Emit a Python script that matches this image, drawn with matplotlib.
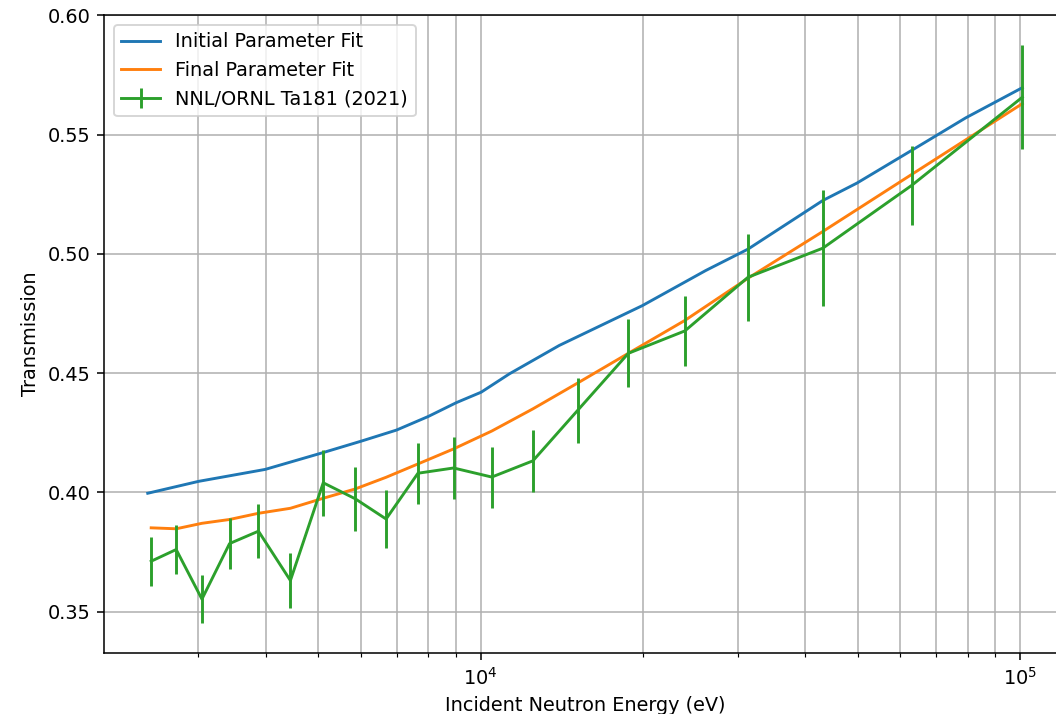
import matplotlib
matplotlib.use("Agg")
import matplotlib.pyplot as plt

# Measured data energies (eV)
energy_data = [2452, 2728, 3045, 3426, 3876, 4442, 5110, 5857, 6683, 7657,
               8915, 10493, 12506, 15130, 18796, 23928, 31325, 43112, 62973, 101000]
trans_data = [0.3711, 0.3760, 0.3552, 0.3785, 0.3837, 0.3630, 0.4040, 0.3973, 0.3888, 0.4080,
              0.4102, 0.4064, 0.4132, 0.4343, 0.4583, 0.4677, 0.4902, 0.5024, 0.5287, 0.5657]
trans_err = [0.0102, 0.0103, 0.0100, 0.0107, 0.0112, 0.0117, 0.0139, 0.0134, 0.0122, 0.0128,
             0.0129, 0.0128, 0.0130, 0.0135, 0.0143, 0.0146, 0.0182, 0.0243, 0.0166, 0.0219]

# Final parameter fit (evaluated at data energies)
trans_final = [0.3851, 0.3847, 0.3870, 0.3886, 0.3912, 0.3933, 0.3975, 0.4014, 0.4063, 0.4119,
               0.4182, 0.4257, 0.4350, 0.4458, 0.4583, 0.4721, 0.4898, 0.5094, 0.5333, 0.5630]

# Initial parameter fit
energy_init = [2416, 3003, 3988, 5097, 6018, 6986, 8000, 9018, 10030, 11315, 13996,
               19953, 26140, 31325, 43112, 49870, 62973, 79400, 101000]
trans_init = [0.3996, 0.4046, 0.4096, 0.4166, 0.4215, 0.4261, 0.4318, 0.4376, 0.4420, 0.4497, 0.4616,
              0.4783, 0.4930, 0.5020, 0.5224, 0.5297, 0.5434, 0.5571, 0.5697]

DPI = 139
fig = plt.figure(figsize=(1056 / DPI, 714 / DPI), dpi=DPI)
ax = fig.add_axes([104/1056, 1 - 653/714, 962/1056, 638/714])

ax.plot(energy_init, trans_init, label="Initial Parameter Fit")
ax.plot(energy_data, trans_final, label="Final Parameter Fit")
ax.errorbar(energy_data, trans_data, yerr=trans_err, label="NNL/ORNL Ta181 (2021)")

ax.set_xscale("log")
ax.set_ylim(0.3326, 0.6002)
ax.grid(True, which="both")
ax.set_xlabel("Incident Neutron Energy (eV)")
ax.set_ylabel("Transmission")
ax.legend(loc="upper left")

fig.savefig("out.png", dpi=DPI)
